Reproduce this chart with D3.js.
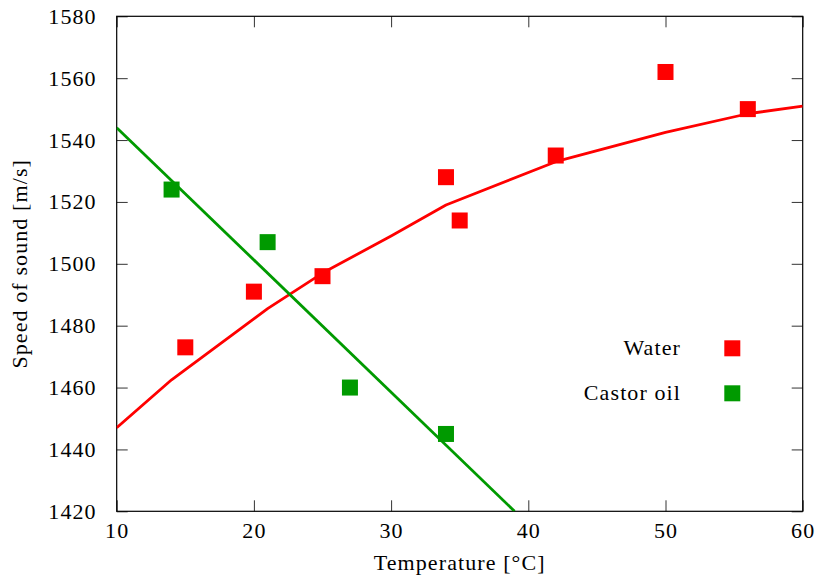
<!DOCTYPE html>
<html>
<head>
<meta charset="utf-8">
<script src="https://d3js.org/d3.v7.min.js"></script>
<style>
  body { margin: 0; background: #fff; }
</style>
</head>
<body>
<svg id="chart" width="830" height="583"></svg>
<script>
// data
var waterTemp  = [15, 20, 25, 34, 35, 42, 50, 56];
var waterSpeed = [1473, 1491, 1496, 1528, 1514, 1535, 1562, 1550];

var oilTemp  = [14, 21, 27, 34];
var oilSpeed = [1524, 1507, 1460, 1445];

// fitted curves
var waterFitTemp  = [10, 14, 21, 25, 30, 34, 42, 50, 56, 60];
var waterFitSpeed = [1447, 1462.5, 1485.5, 1497, 1509, 1519, 1533, 1542.5, 1548.5, 1551];
var oilFitTemp  = [10, 39];
var oilFitSpeed = [1544, 1420];

var xTicks = [10, 20, 30, 40, 50, 60];
var yTicks = [1420, 1440, 1460, 1480, 1500, 1520, 1540, 1560, 1580];

var seriesNames = ["Water", "Castor oil"];
var seriesColors = ["#ff0000", "#009a00"];

// layout
var plotLeft = 116.7, plotRight = 802.7, plotTop = 16.3, plotBottom = 511.3;
var tickLen = 11;
var fontSize = 22;
var fontFamily = "'Liberation Serif', 'Times New Roman', serif";

var svg = d3.select("#chart");

function textStyle(sel) {
  sel.style("font-family", fontFamily)
    .style("font-size", fontSize + "px")
    .style("letter-spacing", "1.1px")
    .attr("fill", "#000");
}

var x = d3.scaleLinear().domain([10, 60]).range([plotLeft, plotRight]);
var y = d3.scaleLinear().domain([1420, 1580]).range([plotBottom, plotTop]);

svg.append("clipPath").attr("id", "plot-clip")
  .append("rect")
    .attr("x", plotLeft).attr("y", plotTop)
    .attr("width", plotRight - plotLeft).attr("height", plotBottom - plotTop);

// axes, ticks pointing inward
function styleAxis(g) {
  g.select(".domain").remove();
  g.selectAll(".tick line").attr("stroke", "#333").attr("stroke-width", 1);
  g.selectAll(".tick text").call(textStyle);
}

svg.append("g")
  .attr("transform", "translate(0," + plotBottom + ")")
  .call(d3.axisBottom(x).tickValues(xTicks).tickSize(-tickLen).tickSizeOuter(0).tickPadding(11).tickFormat(d3.format("d")))
  .call(styleAxis);

svg.append("g")
  .attr("transform", "translate(0," + plotTop + ")")
  .call(d3.axisTop(x).tickValues(xTicks).tickSize(-tickLen).tickSizeOuter(0).tickFormat(""))
  .call(styleAxis);

svg.append("g")
  .attr("transform", "translate(" + plotLeft + ",0)")
  .call(d3.axisLeft(y).tickValues(yTicks).tickSize(-tickLen).tickSizeOuter(0).tickPadding(20).tickFormat(d3.format("d")))
  .call(styleAxis);

svg.append("g")
  .attr("transform", "translate(" + plotRight + ",0)")
  .call(d3.axisRight(y).tickValues(yTicks).tickSize(-tickLen).tickSizeOuter(0).tickFormat(""))
  .call(styleAxis);

// frame
svg.append("rect")
  .attr("x", plotLeft).attr("y", plotTop)
  .attr("width", plotRight - plotLeft).attr("height", plotBottom - plotTop)
  .attr("fill", "none")
  .attr("stroke", "#000")
  .attr("stroke-width", 1.2);

// fit lines
var line = d3.line()
  .x(function(d) { return x(d[0]); })
  .y(function(d) { return y(d[1]); });

var plot = svg.append("g").attr("clip-path", "url(#plot-clip)");

plot.append("path")
  .datum(d3.zip(waterFitTemp, waterFitSpeed))
  .attr("d", line)
  .attr("fill", "none")
  .attr("stroke", seriesColors[0])
  .attr("stroke-width", 2.8)
  .attr("stroke-linejoin", "round");

plot.append("path")
  .datum(d3.zip(oilFitTemp, oilFitSpeed))
  .attr("d", line)
  .attr("fill", "none")
  .attr("stroke", seriesColors[1])
  .attr("stroke-width", 2.8);

// square markers
var sq = 16;
function squares(xs, ys, color) {
  svg.append("g").selectAll("rect")
    .data(d3.zip(xs, ys))
    .enter()
    .append("rect")
      .attr("x", function(d) { return x(d[0]) - sq / 2; })
      .attr("y", function(d) { return y(d[1]) - sq / 2; })
      .attr("width", sq)
      .attr("height", sq)
      .attr("fill", color);
}
squares(waterTemp, waterSpeed, seriesColors[0]);
squares(oilTemp, oilSpeed, seriesColors[1]);

// legend
var legend = svg.append("g");
seriesNames.forEach(function(name, i) {
  var cy = 348.3 + i * 45;
  legend.append("text")
    .attr("x", 681)
    .attr("y", cy + 7)
    .attr("text-anchor", "end")
    .call(textStyle)
    .text(name);
  legend.append("rect")
    .attr("x", 732.3 - sq / 2)
    .attr("y", cy - sq / 2)
    .attr("width", sq)
    .attr("height", sq)
    .attr("fill", seriesColors[i]);
});

// axis titles
svg.append("text")
  .attr("x", (plotLeft + plotRight) / 2)
  .attr("y", 570)
  .attr("text-anchor", "middle")
  .call(textStyle)
  .text("Temperature [°C]");

svg.append("text")
  .attr("transform", "translate(27," + ((plotTop + plotBottom) / 2) + ") rotate(-90)")
  .attr("text-anchor", "middle")
  .call(textStyle)
  .text("Speed of sound [m/s]");
</script>
</body>
</html>
